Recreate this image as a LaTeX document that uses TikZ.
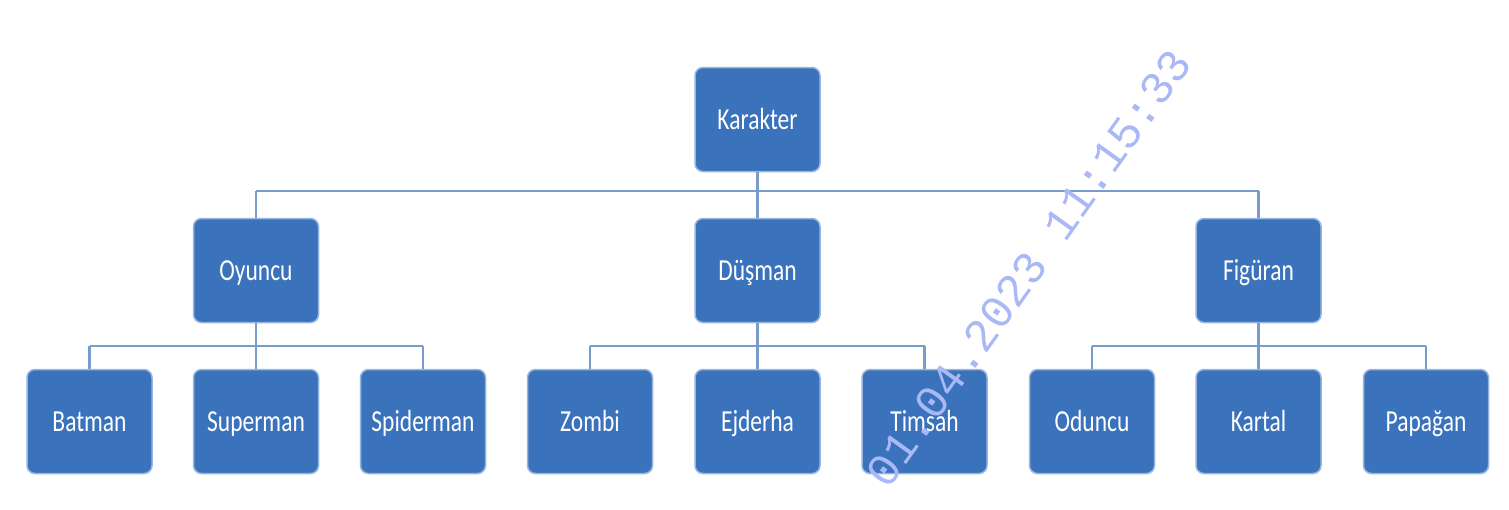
\documentclass[tikz,border=0pt]{standalone}
\usepackage{fontspec}
\setmainfont{Carlito}
\newfontfamily\wmfont{Liberation Mono}
\definecolor{boxfill}{RGB}{58,114,188}
\definecolor{boxedge}{RGB}{150,182,224}
\definecolor{linecol}{RGB}{122,156,202}
\definecolor{wmcol}{RGB}{170,184,246}
\tikzset{
  box/.style={rectangle, rounded corners=8pt, fill=boxfill, draw=boxedge, line width=1.5pt,
    minimum width=125pt, minimum height=104pt, inner sep=0pt, text=white,
    font=\fontsize{23.5}{28}\selectfont},
  conn/.style={draw=linecol, line width=2.2pt},
  wm/.style={text=wmcol, font=\wmfont\fontsize{46}{50}\selectfont, rotate=54.4, inner sep=0pt}
}
\newcommand{\lbl}[1]{\scalebox{1}[1.3]{\rule[-5pt]{0pt}{24.9pt}#1}}
\begin{document}
\begin{tikzpicture}[x=1pt,y=-1pt]
\useasboundingbox (0,0) rectangle (1509,509);
\coordinate (busA) at (0,191);
\coordinate (busB) at (0,346);
\node[box] (k) at (757.5,119.5) {\lbl{Karakter}};
\node[box] (o) at (256,270.5) {\lbl{Oyuncu}};
\node[box] (d) at (757.5,270.5) {\lbl{Düşman}};
\node[box] (f) at (1258.5,270.5) {\lbl{Figüran}};
\node[box] (b1) at (89.5,421.5) {\lbl{Batman}};
\node[box] (b2) at (256,421.5) {\lbl{Superman}};
\node[box] (b3) at (423,421.5) {\lbl{Spiderman}};
\node[box] (b4) at (590,421.5) {\lbl{Zombi}};
\node[box] (b5) at (757.5,421.5) {\lbl{Ejderha}};
\node[box] (b6) at (924.5,421.5) {\lbl{Timsah}};
\node[box] (b7) at (1092,421.5) {\lbl{Oduncu}};
\node[box] (b8) at (1258.5,421.5) {\lbl{Kartal}};
\node[box] (b9) at (1426,421.5) {\lbl{Papağan}};
\path[conn] (k.south) -- (k.south |- busA);
\path[conn] (o.north |- busA) -- (f.north |- busA);
\path[conn] (o.north |- busA) -- (o.north);
\path[conn] (d.north |- busA) -- (d.north);
\path[conn] (f.north |- busA) -- (f.north);
\foreach \p/\a/\b/\c in {o/b1/b2/b3, d/b4/b5/b6, f/b7/b8/b9}{
  \path[conn] (\p.south) -- (\p.south |- busB);
  \path[conn] (\a.north |- busB) -- (\c.north |- busB);
  \path[conn] (\a.north |- busB) -- (\a.north);
  \path[conn] (\b.north |- busB) -- (\b.north);
  \path[conn] (\c.north |- busB) -- (\c.north);
}
\node[wm] (wmark) at (1029,268) {01.04.2023 11:15:33};
\end{tikzpicture}
\end{document}
